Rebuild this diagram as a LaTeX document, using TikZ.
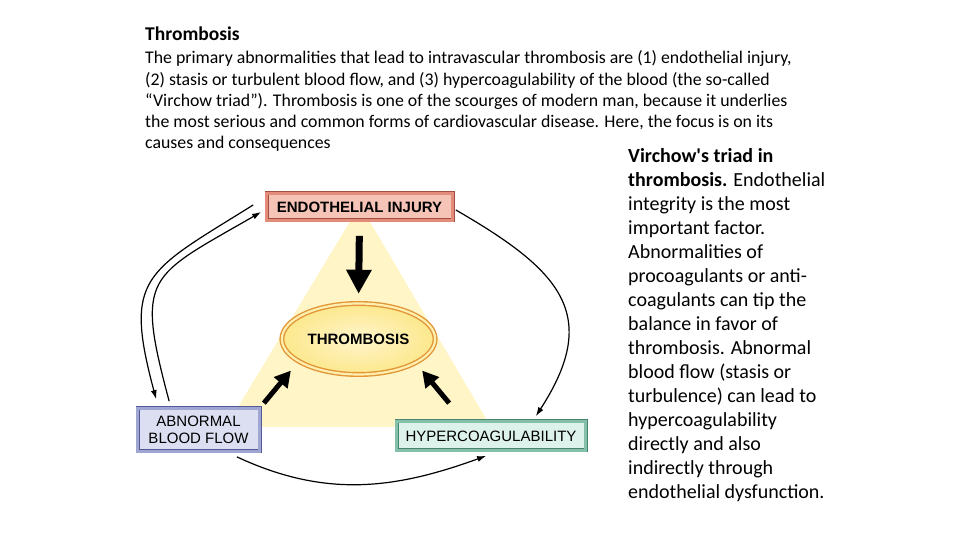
\documentclass[tikz,border=0pt]{standalone}
\usepackage{fontspec}
\setmainfont{Carlito}
\newfontfamily\labelfont{Liberation Sans}
\usetikzlibrary{positioning,shapes.geometric,arrows.meta}

\definecolor{triyellow}{RGB}{255,245,198}
\definecolor{endofill}{RGB}{245,196,182}
\definecolor{endoband}{RGB}{228,140,122}
\definecolor{endoline}{RGB}{160,80,66}
\definecolor{flowfill}{RGB}{220,223,242}
\definecolor{flowband}{RGB}{160,166,210}
\definecolor{flowline}{RGB}{84,90,150}
\definecolor{hyperfill}{RGB}{221,242,234}
\definecolor{hyperband}{RGB}{132,192,170}
\definecolor{hyperline}{RGB}{70,132,110}
\definecolor{thrombfill}{RGB}{253,232,140}
\definecolor{thrombline}{RGB}{226,150,56}

\begin{document}
\begin{tikzpicture}[x=1pt,y=1pt,
    bevel/.style n args={3}{rectangle,draw=#1,double=#2,double distance=2.6pt,line width=0.7pt,fill=#3,inner sep=0pt,
        font=\labelfont\fontsize{15}{17}\selectfont,align=center},
    loop/.style={line width=1.2pt,-{Latex[length=9pt,width=6pt]}},
    push/.style={line width=5pt,-{Triangle[length=16pt,width=17pt]}}]

\useasboundingbox (0,0) rectangle (960,540);

\fill[triyellow] (360,335) -- (226,113) -- (491,113) -- cycle;

\node[bevel={endoline}{endoband}{endofill},minimum width=186pt,minimum height=27pt] (endo) at (359.5,333)
    {\bfseries ENDOTHELIAL INJURY};
\node[bevel={flowline}{flowband}{flowfill},minimum width=122pt,minimum height=43pt] (flow) at (198.5,110)
    {ABNORMAL\\BLOOD FLOW};
\node[bevel={hyperline}{hyperband}{hyperfill},minimum width=189pt,minimum height=29pt] (hyper) at (491,104)
    {HYPERCOAGULABILITY};
\node[ellipse,draw=thrombline,double=thrombfill!70!white,double distance=2.2pt,line width=1.4pt,
    inner color=thrombfill!45!white,outer color=thrombfill,minimum width=124pt,minimum height=71pt,
    font=\labelfont\bfseries\fontsize{15}{17}\selectfont] (thromb) at (358.5,201) {THROMBOSIS};

\draw[push,line width=7pt,-{Triangle[length=24pt,width=24pt]},shorten <=15pt,shorten >=9pt] (endo.south) -- (thromb.north);
\draw[push] ([shift={(4,5)}]flow.north east) -- ([shift={(-13,-6)}]thromb.south west);
\draw[push] ([shift={(53,18)}]hyper.north west) -- ([shift={(9,-6)}]thromb.south east);

\draw[loop] ([shift={(-13,2)}]endo.west) to[out=212,in=105,looseness=1.5] ([shift={(19,9)}]flow.north west);
\draw[loop] ([shift={(32,7)}]flow.north west) to[out=105,in=210,looseness=1.6] ([shift={(-5,-5)}]endo.west);
\draw[loop] ([shift={(3,-3)}]endo.east) to[out=-30,in=57,looseness=1.4] ([shift={(-50,5)}]hyper.north east);
\draw[loop] ([shift={(-23,-5)}]flow.south east) to[out=-25,in=200] ([shift={(90,-5)}]hyper.south west);

\node[anchor=base west,inner sep=0pt,font=\bfseries\fontsize{19.5}{22}\selectfont] (title) at (145,499) {Thrombosis};
\node[anchor=base west,inner sep=0pt,align=left,font=\fontsize{17.8}{21.3}\selectfont] (intro) at (145,391)
    {The primary abnormalities that lead to intravascular thrombosis are (1) endothelial injury,\\
     (2) stasis or turbulent blood flow, and (3) hypercoagulability of the blood (the so-called\\
     ``Virchow triad''). Thrombosis is one of the scourges of modern man, because it underlies\\
     the most serious and common forms of cardiovascular disease. Here, the focus is on its\\
     causes and consequences};
\node[anchor=base west,inner sep=0pt,font=\fontsize{20}{24}\selectfont] (legend) at (628,41)
    {\begin{tabular}[b]{@{}l@{}}
     \textbf{Virchow\textquotesingle s triad in}\\
     \textbf{thrombosis.} Endothelial\\
     integrity is the most\\
     important factor.\\
     Abnormalities of\\
     procoagulants or anti-\\
     coagulants can tip the\\
     balance in favor of\\
     thrombosis. Abnormal\\
     blood flow (stasis or\\
     turbulence) can lead to\\
     hypercoagulability\\
     directly and also\\
     indirectly through\\
     endothelial dysfunction.
     \end{tabular}};
\end{tikzpicture}
\end{document}
